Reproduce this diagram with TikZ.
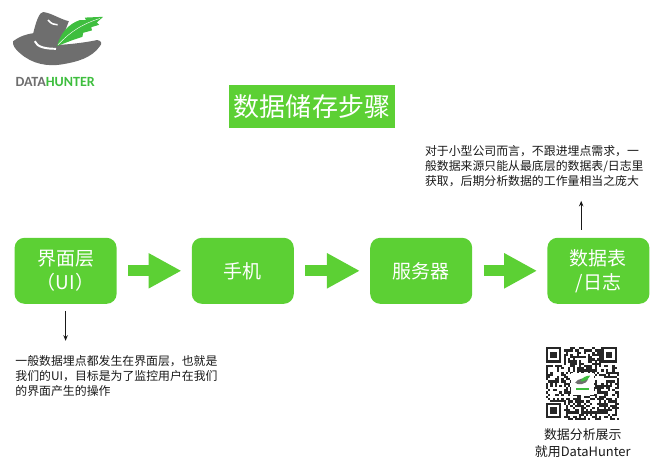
\documentclass[tikz,border=0pt]{standalone}
\usepackage{fontspec}
\usepackage{tikz}
\usetikzlibrary{arrows.meta}
\setmainfont{Noto Sans CJK SC}
\newfontfamily\logofont{Carlito}
\definecolor{boxgreen}{RGB}{92,208,52}
\definecolor{hatgray}{RGB}{110,110,110}
\definecolor{leafgreen}{RGB}{62,190,62}

\begin{document}
\begin{tikzpicture}
        % Define styles
        \tikzset{
            stepbox/.style={rectangle, rounded corners=0.25cm, fill=boxgreen, text=white, align=center, minimum width=2.55cm, minimum height=1.65cm, font=\fontsize{13.5}{17}\selectfont},
            titlebox/.style={rectangle, fill=boxgreen, text=white, minimum width=4.05cm, minimum height=1.08cm, font=\fontsize{18.5}{22}\selectfont},
            note/.style={align=left, anchor=north west, inner sep=0pt, text=black!90, font=\fontsize{8.45}{10.7}\selectfont},
            caption/.style={align=center, text=black!90, font=\fontsize{9.2}{12}\selectfont},
            bigarrow/.style={-{Triangle[length=0.825cm,width=0.825cm]}, draw=boxgreen, line width=0.275cm, shorten <=0.28cm, shorten >=0.25cm},
            arrow/.style={-{Stealth[length=0.14cm,width=0.11cm]}, draw=black!90, line width=0.85pt}
        }
        \useasboundingbox (0,0) rectangle (16.5,-11.625);

        % Logo
        \fill[hatgray] (0.33,-1.03) .. controls (0.5,-0.9) and (0.68,-0.85) .. (0.83,-0.83)
            .. controls (0.9,-0.55) and (0.98,-0.3) .. (1.08,-0.3)
            .. controls (1.3,-0.33) and (1.5,-0.48) .. (1.72,-0.53)
            -- (1.5,-1.12) .. controls (1.85,-1.1) and (2.2,-1.05) .. (2.43,-1.0)
            .. controls (2.55,-1.02) and (2.55,-1.1) .. (2.5,-1.15)
            .. controls (2.3,-1.45) and (1.9,-1.55) .. (1.6,-1.6)
            .. controls (1.2,-1.68) and (0.8,-1.6) .. (0.5,-1.33)
            .. controls (0.38,-1.23) and (0.3,-1.12) .. (0.33,-1.03) -- cycle;
        \draw[white, line width=1.4pt] (0.87,-1.03) .. controls (0.92,-1.18) and (1.15,-1.22) .. (1.4,-1.22);
        \draw[white, line width=1.1pt] (1.2,-0.5) .. controls (1.28,-0.6) and (1.36,-0.62) .. (1.44,-0.62);
        \fill[leafgreen] (1.43,-1.15) .. controls (1.5,-0.85) and (1.7,-0.6) .. (2.0,-0.5)
            -- (2.15,-0.5) -- (2.12,-0.44) -- (2.58,-0.42) -- (2.42,-0.56) -- (2.48,-0.62)
            -- (2.28,-0.68) -- (2.3,-0.76) -- (2.08,-0.82) -- (2.06,-0.92) -- (1.82,-1.0) -- cycle;
        \draw[white, line width=0.3pt] (1.45,-1.12) .. controls (1.75,-0.8) and (2.05,-0.6) .. (2.5,-0.46);
        \node[inner sep=0pt, font=\logofont\bfseries\fontsize{10}{11}\selectfont] (logo_text) at (1.38,-2.05) {\textcolor{hatgray}{DATA}\textcolor{leafgreen}{HUNTER}};

        % Title
        \node[titlebox] (title_node) at (7.8,-2.67) {数据储存步骤};

        % Nodes
        \node[stepbox] (ui_node) at (1.64,-6.77) {界面层\\（UI）};
        \node[stepbox] (phone_node) at (6.07,-6.77) {手机};
        \node[stepbox] (server_node) at (10.53,-6.77) {服务器};
        \node[stepbox] (table_node) at (14.96,-6.77) {数据表\\/日志};

        % Notes
        \node[note] (ui_note) at (0.38,-8.88) {一般数据埋点都发生在界面层，也就是\\我们的UI，目标是为了监控用户在我们\\的界面产生的操作};
        \node[note] (table_note) at (10.62,-3.62) {对于小型公司而言，不跟进埋点需求，一\\般数据来源只能从最底层的数据表/日志里\\获取，后期分析数据的工作量相当之庞大};
        \node[caption] (qr_caption) at (14.57,-11.08) {数据分析展示\\就用DataHunter};

        % Arrows
        \coordinate (ui_tip) at (1.64,-8.52);
        \coordinate (table_tip) at (14.53,-5.02);
        \draw[bigarrow] (ui_node) -- (phone_node);
        \draw[bigarrow] (phone_node) -- (server_node);
        \draw[bigarrow] (server_node) -- (table_node);
        \draw[arrow, shorten <=0.17cm] (ui_node) -- (ui_tip);
        \draw[arrow, shorten <=0.2cm] (table_node.north -| table_tip) -- (table_tip);

        % QR code
        \begin{scope}[shift={(13.65,-8.68)}, x=0.0553cm, y=-0.0553cm]
            \pgfmathsetseed{4242}
            \foreach \qx in {0,...,32}{
                \foreach \qy in {0,...,32}{
                    \pgfmathtruncatemacro{\qbit}{rnd<0.52}
                    \ifnum\qbit=1
                        \fill[black!85] (\qx,\qy) rectangle ++(1.02,1.02);
                    \fi
                }
            }
            \foreach \qx/\qy in {0/0, 25/0, 0/25}{
                \fill[white] (\qx-0.2,\qy-0.2) rectangle ++(8.4,8.4);
                \fill[black!85] (\qx,\qy) rectangle ++(7,7);
                \fill[white] (\qx+1,\qy+1) rectangle ++(5,5);
                \fill[black!85] (\qx+2,\qy+2) rectangle ++(3,3);
            }
            \fill[white] (11.5,11.5) rectangle (21.5,21.5);
            \fill[hatgray] (13.2,16) .. controls (14,14.2) and (18,13.6) .. (19,14.6) .. controls (18.5,16.8) and (14,17.4) .. (13.2,16) -- cycle;
            \fill[leafgreen] (15.5,15.5) .. controls (16.5,13.5) and (18,13) .. (20,12.8) .. controls (19.2,14.8) and (17,15.6) .. (15.5,15.5) -- cycle;
            \fill[leafgreen] (13.4,18.4) rectangle (19.6,19.4);
        \end{scope}
\end{tikzpicture}
\end{document}
